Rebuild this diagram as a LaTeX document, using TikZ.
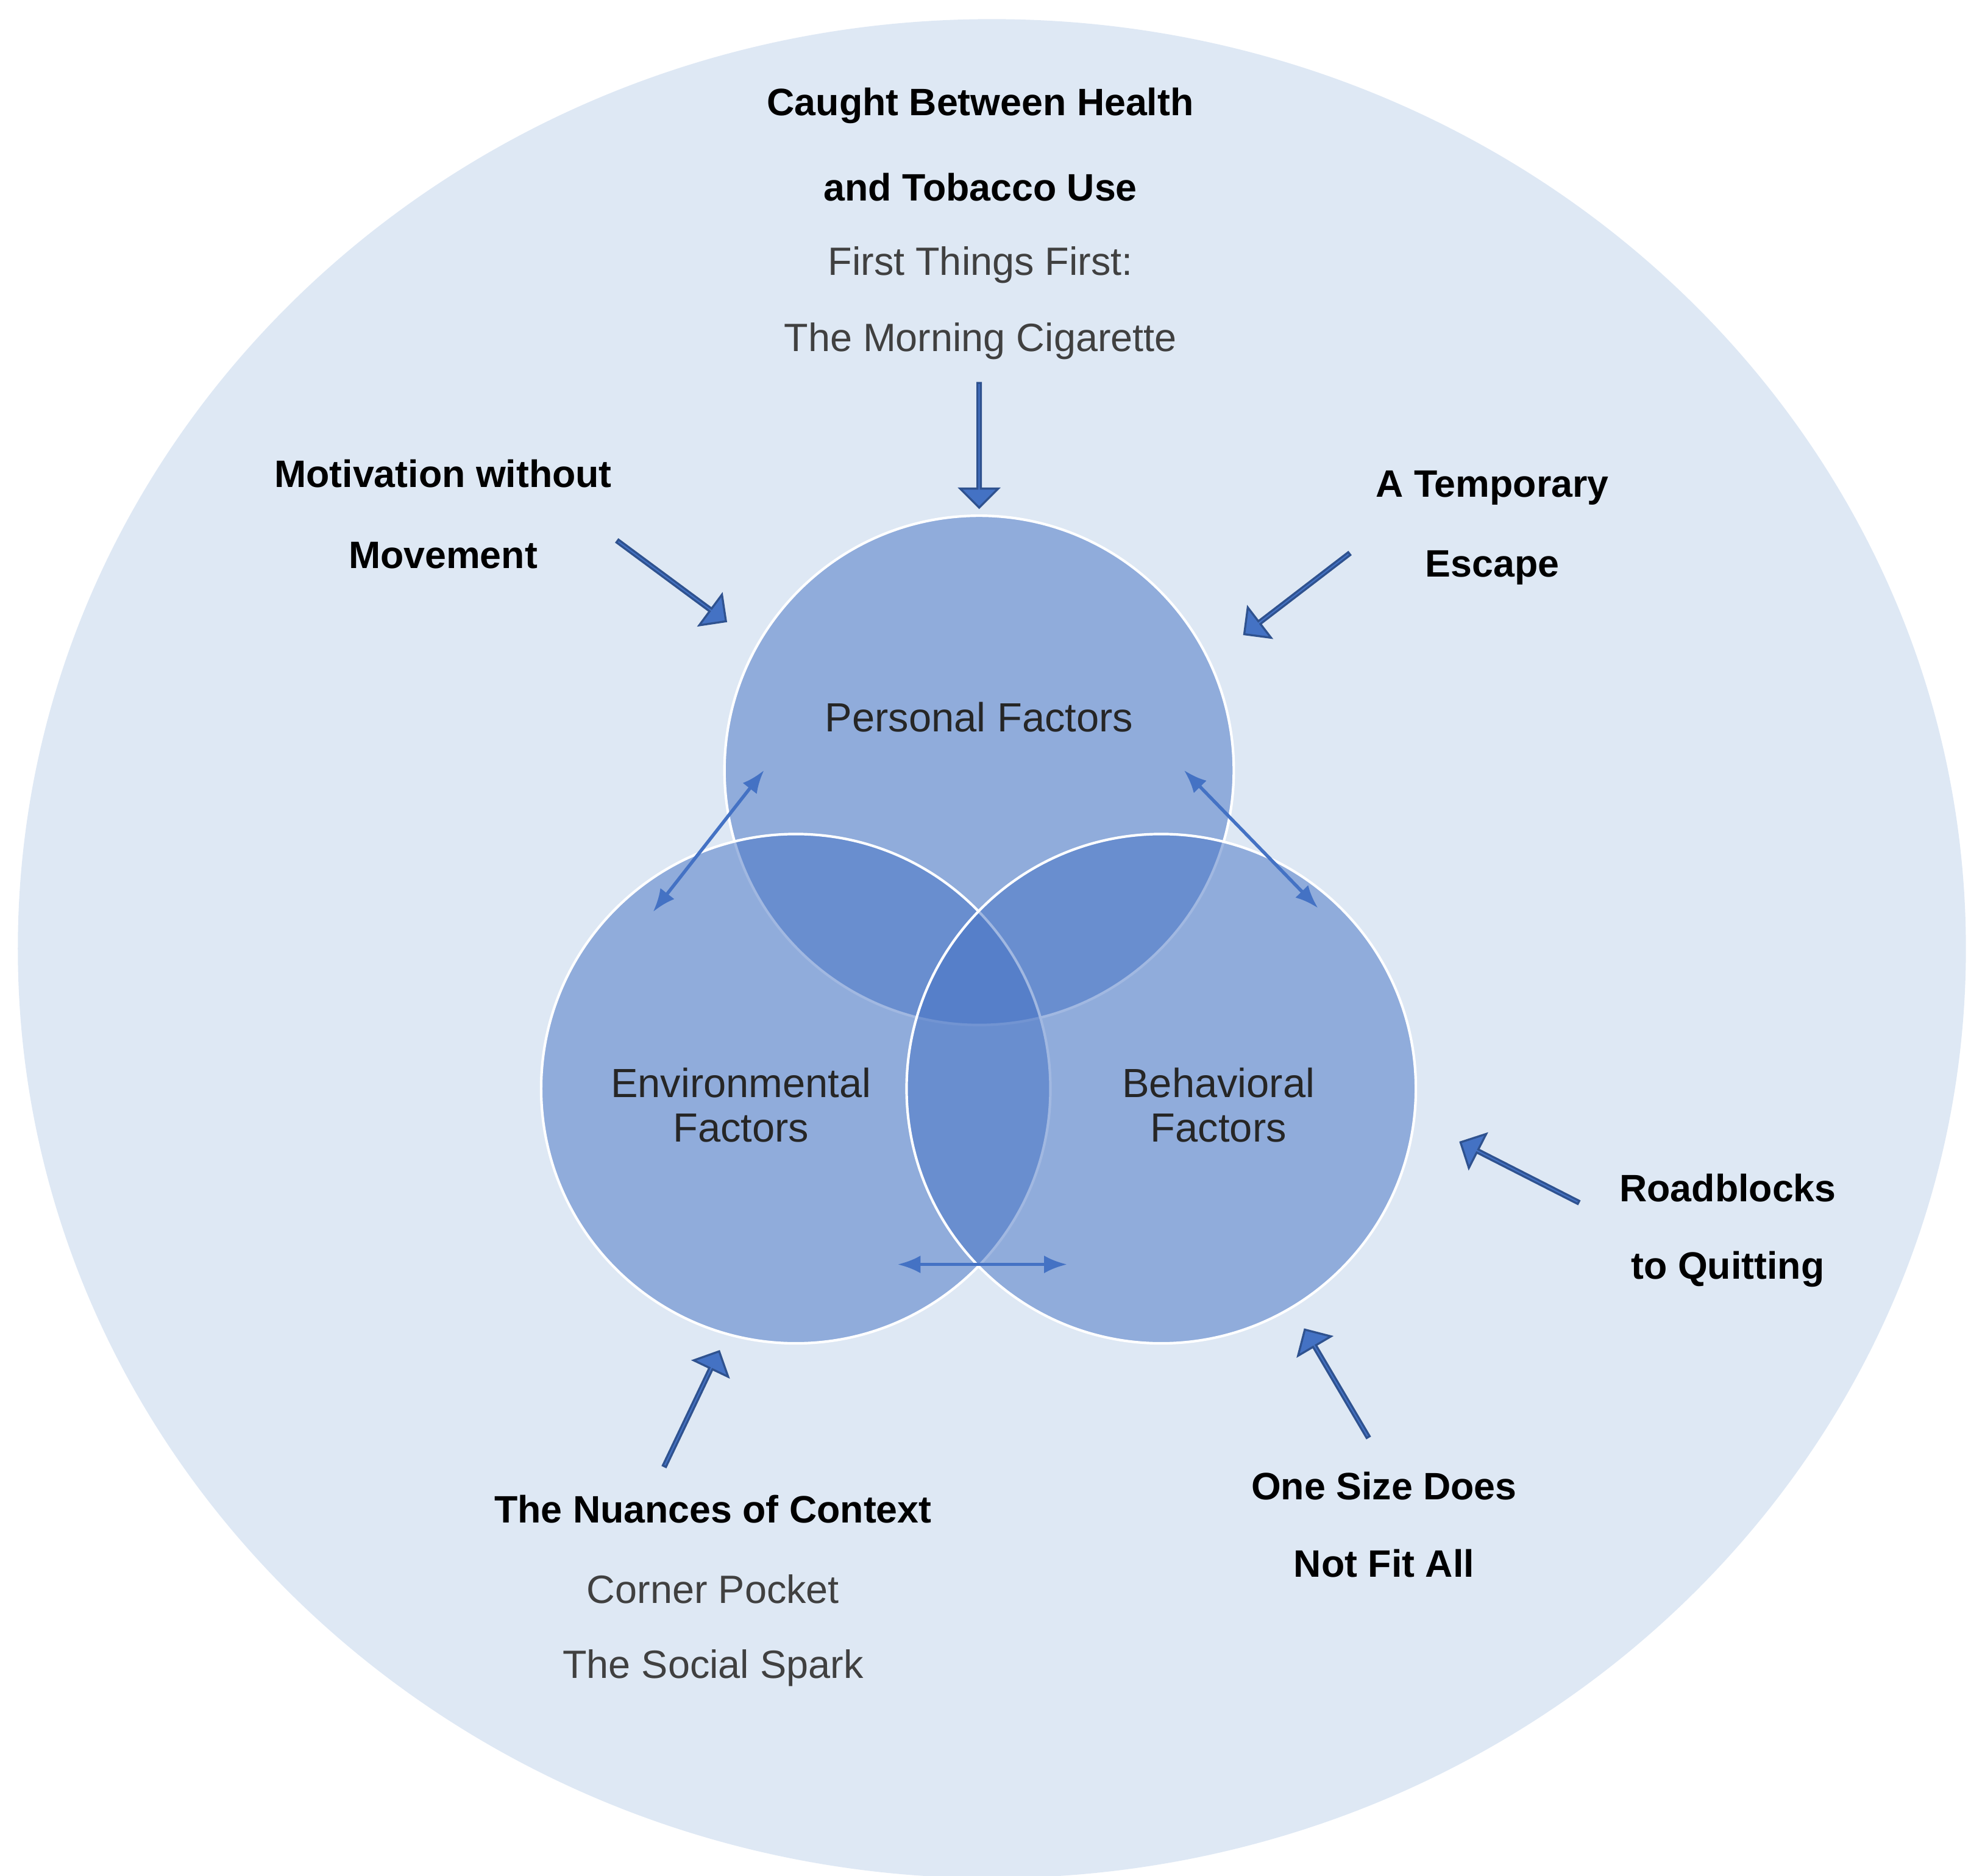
\documentclass[tikz,border=0pt]{standalone}
\usepackage{fontspec}
\setmainfont{Liberation Sans}
\usetikzlibrary{shapes.arrows,arrows.meta}
\definecolor{bg}{HTML}{DEE8F4}
\definecolor{acc}{HTML}{4472C4}
\definecolor{dk}{HTML}{2F528F}
\begin{document}
\begin{tikzpicture}[x=0.5pt,y=-0.5pt,
  venn/.style={circle,minimum size=200pt,fill=acc,fill opacity=0.5,draw=white,draw opacity=1,line width=1pt},
  lab/.style={font=\fontsize{15}{15}\selectfont\bfseries,inner sep=0pt},
  sub/.style={font=\fontsize{15.5}{15.5}\selectfont,text=black!75,inner sep=0pt},
  clab/.style={font=\fontsize{16}{17.5}\selectfont,text=black!85,align=center,inner sep=0pt},
  blk/.style={single arrow,fill=acc,draw=dk,line width=0.8pt,minimum width=15pt,single arrow head extend=4pt,single arrow head indent=0pt,inner sep=0pt},
  thin/.style={acc,line width=1.3pt,{Latex[length=9pt,width=7pt]}-{Latex[length=9pt,width=7pt]}}]
\useasboundingbox (0,0) rectangle (1548,1473);
\fill[bg] (779,745) ellipse [x radius=765, y radius=730];
\node[venn] (p) at (769,605) {};
\node[venn] (e) at (625,855) {};
\node[venn] (b) at (912,855) {};
\node[clab] (pl) at (769,563) {Personal Factors};
\node[clab] (el) at (582,868) {Environmental\\Factors};
\node[clab] (bl) at (957,868) {Behavioral\\Factors};
\coordinate (t1a) at (600,605); \coordinate (t1b) at (513,716);
\coordinate (t2a) at (930,605); \coordinate (t2b) at (1035,713);
\coordinate (t3a) at (705,993); \coordinate (t3b) at (838,993);
\draw[thin] (t1a) -- (t1b);
\draw[thin] (t2a) -- (t2b);
\draw[thin] (t3a) -- (t3b);
\node[blk,minimum height=49pt,rotate=-90] (a1) at (769,349) {};
\node[blk,minimum height=53pt,rotate=-36.5] (a2) at (527,456) {};
\node[blk,minimum height=52pt,rotate=-142.5] (a3) at (1019,466) {};
\node[blk,minimum height=52pt,rotate=153] (a4) at (1194,921) {};
\node[blk,minimum height=49pt,rotate=120.5] (a5) at (1050,1087) {};
\node[blk,minimum height=50pt,rotate=64.5] (a6) at (543,1107) {};
\node[lab] (c1) at (770,83) {Caught Between Health};
\node[lab] (c2) at (770,147) {and Tobacco Use};
\node[sub] (c3) at (770,208) {First Things First:};
\node[sub] (c4) at (770,268) {The Morning Cigarette};
\node[lab] (m1) at (348,372) {Motivation without};
\node[lab] (m2) at (348,436) {Movement};
\node[lab] (te1) at (1172,383) {A Temporary};
\node[lab] (te2) at (1172,446) {Escape};
\node[lab] (r1) at (1357,933) {Roadblocks};
\node[lab] (r2) at (1357,997) {to Quitting};
\node[lab] (o1) at (1087,1167) {One Size Does};
\node[lab] (o2) at (1087,1228) {Not Fit All};
\node[lab] (n1) at (560,1185) {The Nuances of Context};
\node[sub] (n2) at (560,1248) {Corner Pocket};
\node[sub] (n3) at (560,1310) {The Social Spark};
\end{tikzpicture}
\end{document}
